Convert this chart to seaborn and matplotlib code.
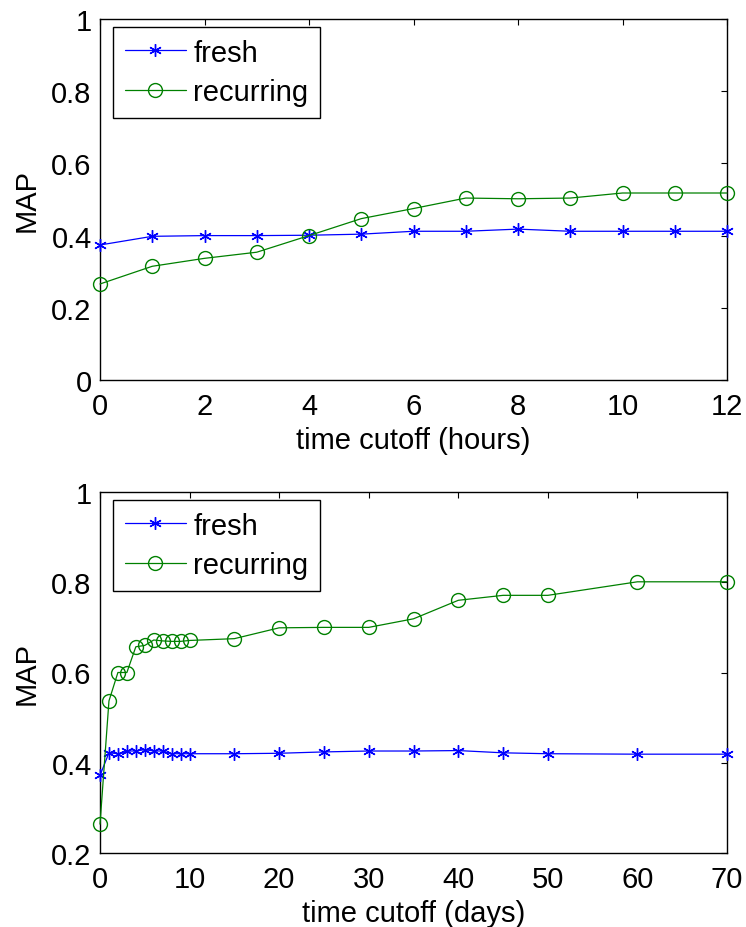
"""MAP vs. time cutoff for fresh and recurring queries (hours / days)."""
import numpy as np
import pandas as pd
import matplotlib
matplotlib.use("Agg")
import matplotlib.pyplot as plt
from matplotlib.ticker import FuncFormatter
import seaborn as sns

# top panel: cutoff in hours
hours = [0, 1, 2, 3, 4, 5, 6, 7, 8, 9, 10, 11, 12]
fresh_hours = [0.374, 0.398, 0.400, 0.400, 0.401, 0.404, 0.412, 0.412, 0.418,
               0.412, 0.412, 0.412, 0.412]
recurring_hours = [0.266, 0.315, 0.337, 0.354, 0.400, 0.447, 0.475, 0.504,
                   0.502, 0.504, 0.518, 0.518, 0.518]

# bottom panel: cutoff in days
days = [0, 1, 2, 3, 4, 5, 6, 7, 8, 9, 10, 15, 20, 25, 30, 35, 40, 45, 50, 60, 70]
fresh_days = [0.372, 0.422, 0.420, 0.426, 0.426, 0.429, 0.426, 0.426, 0.420,
              0.420, 0.420, 0.420, 0.421, 0.424, 0.426, 0.426, 0.427, 0.422,
              0.420, 0.419, 0.419]
recurring_days = [0.264, 0.537, 0.600, 0.600, 0.657, 0.660, 0.672, 0.670, 0.669,
                  0.669, 0.671, 0.675, 0.699, 0.700, 0.700, 0.719, 0.760, 0.771,
                  0.771, 0.801, 0.801]

SERIES = ["fresh", "recurring"]
COLORS = {"fresh": "#0000ff", "recurring": "#008000"}
MARKERS = {"fresh": (6, 2, 0), "recurring": "o"}
SIZES = {"fresh": 9, "recurring": 10}
FS = 21

sns.set_style("white")
plt.rcParams["font.family"] = ["Liberation Sans", "DejaVu Sans"]
plt.rcParams["font.size"] = FS
plt.rcParams["text.color"] = "black"
plt.rcParams["axes.labelcolor"] = "black"
plt.rcParams["xtick.color"] = "black"
plt.rcParams["ytick.color"] = "black"


def _panel(ax, x, fresh, recurring, xlabel, xlim, xticks, ylim, yticks):
    df = pd.DataFrame({"x": list(x) * 2,
                       "MAP": list(fresh) + list(recurring),
                       "series": ["fresh"] * len(x) + ["recurring"] * len(x)})
    for name in SERIES:
        sub = df[df["series"] == name]
        sns.lineplot(data=sub, x="x", y="MAP", ax=ax, color=COLORS[name],
                     marker=MARKERS[name], markersize=SIZES[name],
                     mec=COLORS[name], mfc="none", mew=1.0,
                     linewidth=0.9, label=name, clip_on=False, zorder=3)
    ax.set_xlim(xlim)
    ax.set_ylim(ylim)
    ax.set_xticks(xticks)
    ax.set_yticks(yticks)
    ax.xaxis.set_major_formatter(FuncFormatter(lambda v, _: f"{v:g}"))
    ax.yaxis.set_major_formatter(FuncFormatter(lambda v, _: f"{v:g}"))
    ax.set_xlabel(xlabel, fontsize=FS, labelpad=4)
    ax.set_ylabel("MAP", fontsize=FS, labelpad=8)
    ax.tick_params(direction="in", length=4, width=0.8, labelsize=FS,
                   top=True, right=True)
    ax.tick_params(axis="x", pad=9)
    ax.tick_params(axis="y", pad=6)
    for sp in ax.spines.values():
        sp.set_visible(True)
        sp.set_color("black")
        sp.set_linewidth(1.0)
        sp.set_zorder(2)
    leg = ax.legend(loc="upper left", bbox_to_anchor=(13 / 627, 1 - 8 / 361),
                    borderaxespad=0, fancybox=False, framealpha=1.0,
                    edgecolor="black", fontsize=FS, handlelength=2.1,
                    handletextpad=0.25, borderpad=0.4, labelspacing=0.4)
    leg.get_frame().set_linewidth(1.0)
    leg.set_zorder(5)


fig = plt.figure(figsize=(7.46, 9.28), dpi=100)
ax1 = fig.add_axes([100 / 746, 1 - 381 / 928, 627 / 746, 361 / 928])
ax2 = fig.add_axes([100 / 746, 1 - 854 / 928, 627 / 746, 361 / 928])

_panel(ax1, hours, fresh_hours, recurring_hours, "time cutoff (hours)",
       (0, 12), np.arange(0, 13, 2), (0, 1), np.arange(0, 1.01, 0.2))
_panel(ax2, days, fresh_days, recurring_days, "time cutoff (days)",
       (0, 70), np.arange(0, 71, 10), (0.2, 1), np.arange(0.2, 1.01, 0.2))

fig.savefig("out.png", dpi=100)
